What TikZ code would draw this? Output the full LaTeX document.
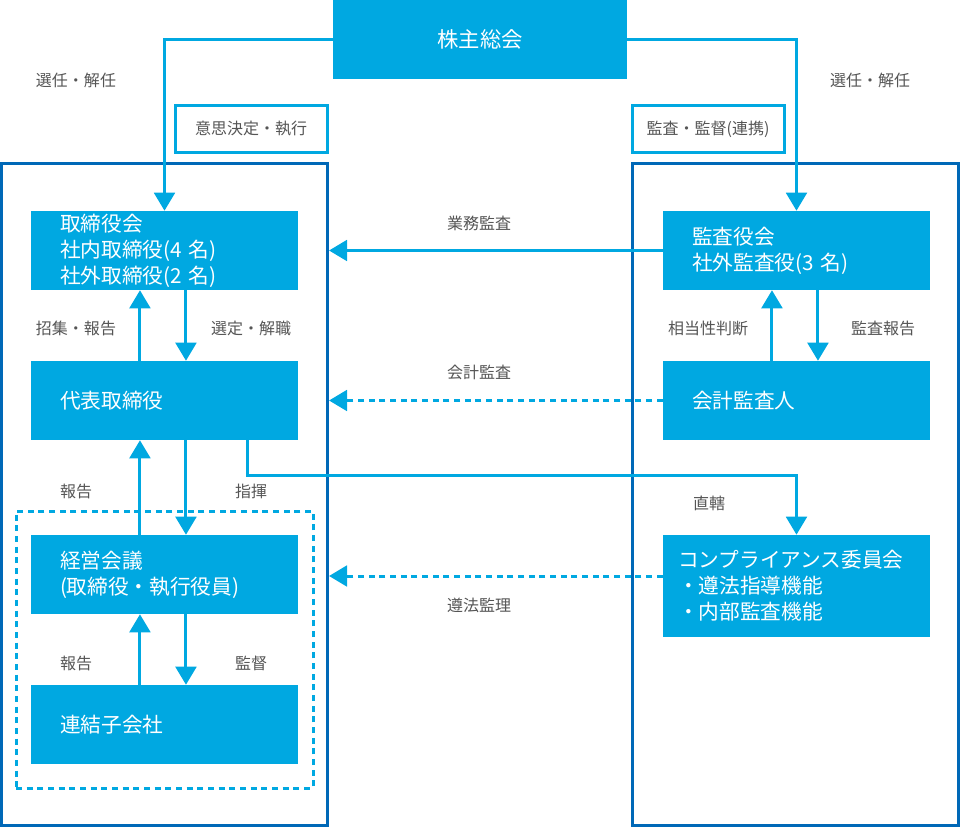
\documentclass[tikz,border=0pt]{standalone}
\usepackage{fontspec}
\newfontfamily\jpfont{Noto Sans CJK JP}
\usetikzlibrary{arrows.meta}
\definecolor{lblue}{HTML}{00A8E1}
\definecolor{dblue}{HTML}{0068B7}
\definecolor{lgray}{HTML}{555555}

\begin{document}
\begin{tikzpicture}[x=0.75pt,y=-0.75pt,
  box/.style={fill=lblue,draw=none,minimum width=200.25pt,minimum height=59.25pt,
    text width=156.75pt,inner xsep=21.75pt,inner ysep=0pt,align=left,text=white,
    font=\jpfont\fontsize{15.5}{19.5}\selectfont},
  frame/.style={draw=dblue,line width=2.25pt,minimum width=244.5pt,minimum height=496.5pt},
  tagbox/.style={draw=lblue,line width=2.25pt,minimum width=114pt,minimum height=35.25pt,
    text=lgray,font=\jpfont\fontsize{12}{14}\selectfont},
  lbl/.style={text=lgray,font=\jpfont\fontsize{12}{14}\selectfont},
  conn/.style={lblue,line width=2.25pt,-{Triangle[width=15.5pt,length=13.5pt]}},
  dconn/.style={conn,dash pattern=on 4.5pt off 3.5pt}
]
  \useasboundingbox (0,0) rectangle (960,827);

  \node[frame] (shikkou) at (164.5,494.5) {};
  \node[frame] (kansagawa) at (795.5,494.5) {};
  \node[draw=lblue,line width=2.25pt,dash pattern=on 4.5pt off 3.5pt,
    minimum width=222.75pt,minimum height=207.75pt] (group) at (164.5,649.5) {};

  \node[tagbox] (ishi) at (251,129) {意思決定・執行};
  \node[tagbox] (renkei) at (708,129) {監査・監督(連携)};

  \node[fill=lblue,minimum width=220.5pt,minimum height=59.25pt,text=white,
    font=\jpfont\fontsize{16}{19}\selectfont] (kabunushi) at (480,39.5) {株主総会};

  \node[box] (torishimari) at (164.5,250.5) {取締役会\\社内取締役(4 名)\\社外取締役(2 名)};
  \node[box] (daihyo) at (164.5,400.5) {代表取締役};
  \node[box] (keiei) at (164.5,574.5) {経営会議\\(取締役・執行役員)};
  \node[box] (renketsu) at (164.5,724.5) {連結子会社};

  \node[box,inner xsep=21pt] (kansa) at (796.5,250.5) {監査役会\\社外監査役(3 名)};
  \node[box,inner xsep=21pt] (kaikei) at (796.5,400.5) {会計監査人};
  \node[box,minimum height=76.5pt,inner xsep=11.25pt,text width=177.75pt] (comp) at (796.5,586)
    {コンプライアンス委員会\\・遵法指導機能\\・内部監査機能};

  \draw[conn] (kabunushi.west) -| (torishimari.north);
  \draw[conn] (kabunushi.east) -| (kansa.north);

  \draw[conn] ([xshift=-18.4pt]daihyo.north) -- ([xshift=-18.4pt]torishimari.south);
  \draw[conn] ([xshift=16.1pt]torishimari.south) -- ([xshift=16.1pt]daihyo.north);
  \draw[conn] ([xshift=-18.4pt]keiei.north) -- ([xshift=-18.4pt]daihyo.south);
  \draw[conn] ([xshift=16.1pt]daihyo.south) -- ([xshift=16.1pt]keiei.north);
  \draw[conn] ([xshift=-18.4pt]renketsu.north) -- ([xshift=-18.4pt]keiei.south);
  \draw[conn] ([xshift=16.1pt]keiei.south) -- ([xshift=16.1pt]renketsu.north);

  \draw[conn] ([xshift=-18.4pt]kaikei.north) -- ([xshift=-18.4pt]kansa.south);
  \draw[conn] ([xshift=16.1pt]kansa.south) -- ([xshift=16.1pt]kaikei.north);

  \draw[conn] ([xshift=62.6pt]daihyo.south) -- ++(0,35) -| (comp.north);

  \draw[conn] (kansa.west) -- (kansa.west -| shikkou.east);
  \draw[dconn] (kaikei.west) -- (kaikei.west -| shikkou.east);
  \draw[dconn] ([yshift=7.5pt]comp.west) -- ([yshift=7.5pt]comp.west -| shikkou.east);

  \node[lbl] (sennin1) at (76,80) {選任・解任};
  \node[lbl] (sennin2) at (870,80) {選任・解任};
  \node[lbl] (gyomu) at (479,223) {業務監査};
  \node[lbl] (shoshu) at (76,328) {招集・報告};
  \node[lbl] (sentei) at (251,328) {選定・解職};
  \node[lbl] (soto) at (708,328) {相当性判断};
  \node[lbl] (kansahoukoku) at (883,328) {監査報告};
  \node[lbl] (kaikeikansa) at (479,372) {会計監査};
  \node[lbl] (houkoku1) at (76,491) {報告};
  \node[lbl] (shiki) at (251,491) {指揮};
  \node[lbl] (chokkatsu) at (709,503) {直轄};
  \node[lbl] (junpo) at (479,605) {遵法監理};
  \node[lbl] (houkoku2) at (76,663) {報告};
  \node[lbl] (kantoku) at (251,663) {監督};
\end{tikzpicture}
\end{document}
